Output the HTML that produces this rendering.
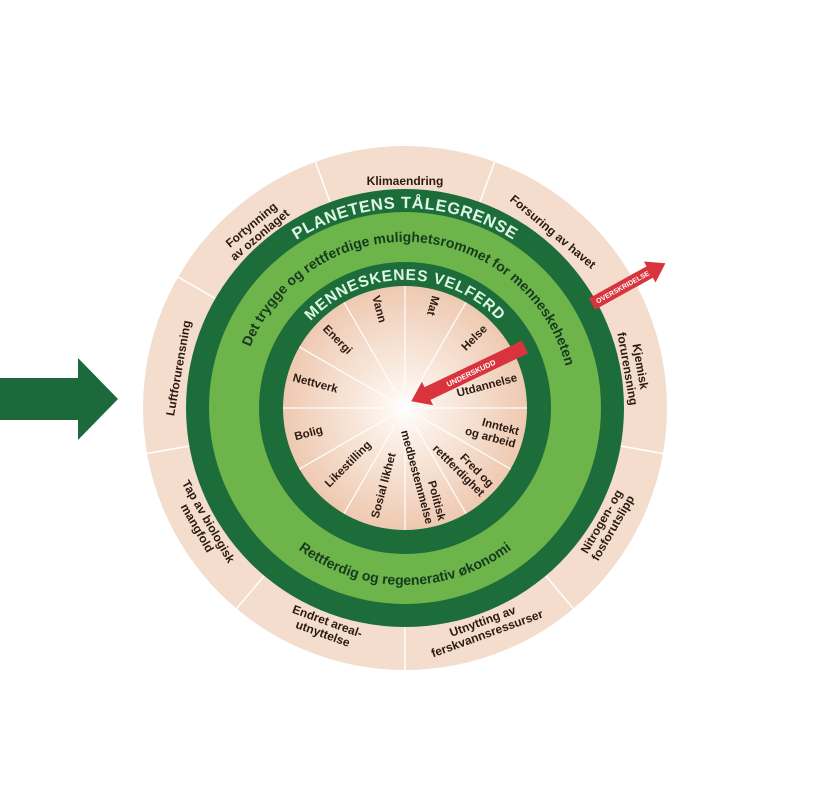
<!DOCTYPE html>
<html><head><meta charset="utf-8"><style>
html,body{margin:0;padding:0;background:#fff;}
svg{display:block;font-family:"Liberation Sans",sans-serif;}
.o{font-size:12px;font-weight:bold;fill:#2b1a12;}
.i{font-size:11.5px;font-weight:bold;fill:#2b1a12;}
</style></head><body>
<svg width="815" height="794" viewBox="0 0 815 794">
<defs>
<radialGradient id="glow" cx="405" cy="408" r="122" gradientUnits="userSpaceOnUse">
<stop offset="0" stop-color="#ffffff"/><stop offset="0.25" stop-color="#fbefe6"/><stop offset="1" stop-color="#eec9b1"/>
</radialGradient>
<path id="pPlan" d="M 231.3 308 A 201 201 0 0 1 578.7 308"/>
<path id="pDet" d="M 241.5 436.8 A 166 166 0 1 1 563.6 456.5"/>
<path id="pMen" d="M 294.1 344 A 128 128 0 0 1 515.9 344"/>
<path id="pRet" d="M 251.7 496.5 A 177 177 0 0 0 558.3 496.5"/>
</defs>
<polygon points="0,378 78,378 78,358 118,399 78,440 78,420 0,420" fill="#1c6a3c"/>
<circle cx="405" cy="408" r="262" fill="#f5ddcd"/>
<g stroke="#fff" stroke-width="1.5">
<g transform="rotate(20 405 408)"><line x1="405" y1="189" x2="405" y2="146"/></g>
<g transform="rotate(60 405 408)"><line x1="405" y1="189" x2="405" y2="146"/></g>
<g transform="rotate(100 405 408)"><line x1="405" y1="189" x2="405" y2="146"/></g>
<g transform="rotate(140 405 408)"><line x1="405" y1="189" x2="405" y2="146"/></g>
<g transform="rotate(180 405 408)"><line x1="405" y1="189" x2="405" y2="146"/></g>
<g transform="rotate(220 405 408)"><line x1="405" y1="189" x2="405" y2="146"/></g>
<g transform="rotate(260 405 408)"><line x1="405" y1="189" x2="405" y2="146"/></g>
<g transform="rotate(300 405 408)"><line x1="405" y1="189" x2="405" y2="146"/></g>
<g transform="rotate(340 405 408)"><line x1="405" y1="189" x2="405" y2="146"/></g>
</g>
<circle cx="405" cy="408" r="219" fill="#1d6d3b"/>
<circle cx="405" cy="408" r="196" fill="#6db44b"/>
<circle cx="405" cy="408" r="146" fill="#1d6d3b"/>
<circle cx="405" cy="408" r="122" fill="url(#glow)"/>
<g stroke="#fff" stroke-width="1.3" opacity="0.9">
<g transform="rotate(0 405 408)"><line x1="405" y1="388" x2="405" y2="286"/></g>
<g transform="rotate(30 405 408)"><line x1="405" y1="388" x2="405" y2="286"/></g>
<g transform="rotate(60 405 408)"><line x1="405" y1="388" x2="405" y2="286"/></g>
<g transform="rotate(90 405 408)"><line x1="405" y1="388" x2="405" y2="286"/></g>
<g transform="rotate(120 405 408)"><line x1="405" y1="388" x2="405" y2="286"/></g>
<g transform="rotate(150 405 408)"><line x1="405" y1="388" x2="405" y2="286"/></g>
<g transform="rotate(180 405 408)"><line x1="405" y1="388" x2="405" y2="286"/></g>
<g transform="rotate(210 405 408)"><line x1="405" y1="388" x2="405" y2="286"/></g>
<g transform="rotate(240 405 408)"><line x1="405" y1="388" x2="405" y2="286"/></g>
<g transform="rotate(270 405 408)"><line x1="405" y1="388" x2="405" y2="286"/></g>
<g transform="rotate(300 405 408)"><line x1="405" y1="388" x2="405" y2="286"/></g>
<g transform="rotate(330 405 408)"><line x1="405" y1="388" x2="405" y2="286"/></g>
</g>

<text font-size="16.5" font-weight="bold" fill="#dff5e6" letter-spacing="0.6"><textPath href="#pPlan" startOffset="50%" text-anchor="middle">PLANETENS TÅLEGRENSE</textPath></text>
<text font-size="14" font-weight="bold" fill="#173a1e"><textPath href="#pDet" startOffset="50%" text-anchor="middle">Det trygge og rettferdige mulighetsrommet for menneskeheten</textPath></text>
<text font-size="15.5" font-weight="bold" fill="#dff5e6" letter-spacing="0.8"><textPath href="#pMen" startOffset="50%" text-anchor="middle">MENNESKENES VELFERD</textPath></text>
<text font-size="14" font-weight="bold" fill="#173a1e"><textPath href="#pRet" startOffset="50%" text-anchor="middle">Rettferdig og regenerativ økonomi</textPath></text>

<g class="o" text-anchor="middle" dominant-baseline="central">
<text transform="rotate(0 405 408) translate(405 181)">Klimaendring</text>
<text transform="rotate(40 405 408) translate(405 178)">Forsuring av havet</text>
<text transform="rotate(80 405 408) translate(405 176)"><tspan x="0" dy="-7">Kjemisk</tspan><tspan x="0" dy="13">forurensning</tspan></text>
<text transform="rotate(120 405 408) translate(405 174) rotate(180)"><tspan x="0" dy="-7">Nitrogen- og</tspan><tspan x="0" dy="13">fosforutslipp</tspan></text>
<text transform="rotate(160 405 408) translate(405 174) rotate(180)"><tspan x="0" dy="-7">Utnytting av</tspan><tspan x="0" dy="13">ferskvannsressurser</tspan></text>
<text transform="rotate(200 405 408) translate(405 174) rotate(180)"><tspan x="0" dy="-7">Endret areal-</tspan><tspan x="0" dy="13">utnyttelse</tspan></text>
<text transform="rotate(240 405 408) translate(405 174) rotate(180)"><tspan x="0" dy="-7">Tap av biologisk</tspan><tspan x="0" dy="13">mangfold</tspan></text>
<text transform="rotate(280 405 408) translate(405 178)">Luftforurensning</text>
<text transform="rotate(320 405 408) translate(405 176)"><tspan x="0" dy="-7">Fortynning</tspan><tspan x="0" dy="13">av ozonlaget</tspan></text>
</g>

<g class="i" dominant-baseline="central">
<text transform="rotate(-15 405 408) translate(405 292) rotate(90)">Vann</text>
<text transform="rotate(15 405 408) translate(405 292) rotate(90)">Mat</text>
<text transform="rotate(-45 405 408) translate(405 294) rotate(90)">Energi</text>
<text transform="rotate(-75 405 408) translate(405 292) rotate(90)">Nettverk</text>
<text transform="rotate(-105 405 408) translate(405 294) rotate(90)">Bolig</text>
<text transform="rotate(-135 405 408) translate(405 298) rotate(90)">Likestilling</text>
<text transform="rotate(-165 405 408) translate(405 294) rotate(90)">Sosial likhet</text>
</g>
<g class="i" dominant-baseline="central" text-anchor="end">
<text transform="rotate(45 405 408) translate(405 294) rotate(-90)">Helse</text>
<text transform="rotate(75 405 408) translate(405 292) rotate(-90)">Utdannelse</text>
<text transform="rotate(105 405 408) translate(405 292) rotate(-90)"><tspan x="0" dy="-6">Inntekt</tspan><tspan x="0" dy="13">og arbeid</tspan></text>
<text transform="rotate(135 405 408) translate(405 292) rotate(-90)"><tspan x="0" dy="-6">Fred og</tspan><tspan x="0" dy="13">rettferdighet</tspan></text>
<text transform="rotate(165 405 408) translate(405 290) rotate(-90)"><tspan x="0" dy="-6">Politisk</tspan><tspan x="0" dy="13">medbestemmelse</tspan></text>
</g>

<g transform="translate(525 347) rotate(154.5)">
<polygon points="0,-7 108,-7 108,-13 126,0 108,13 108,7 0,7" fill="#d9343d"/>
<text x="60" y="3" font-size="7.5" font-weight="bold" fill="#fff" text-anchor="middle" transform="rotate(180 60 0)">UNDERSKUDD</text>
</g>
<g transform="translate(592 304) rotate(-29)">
<polygon points="0,-6.5 66,-6.5 66,-12 84,0 66,12 66,6.5 0,6.5" fill="#d9343d"/>
<text x="35" y="2.5" font-size="7" font-weight="bold" fill="#fff" text-anchor="middle">OVERSKRIDELSE</text>
</g>
</svg>
</body></html>
